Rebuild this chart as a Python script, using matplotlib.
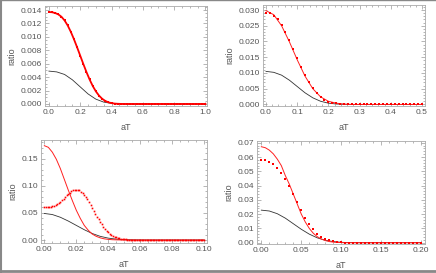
"""Four panels of ratio against aT"""
import matplotlib
matplotlib.use("Agg")
import matplotlib.pyplot as plt
from matplotlib.lines import Line2D
from matplotlib.ticker import MultipleLocator, FormatStrFormatter
import numpy as np

# panel 1 (aT from 0 to 1)
x1_red = np.arange(51) * 0.02
red1 = [0.01370, 0.01367, 0.01355, 0.01335, 0.01300, 0.01245, 0.01170, 0.01075,
        0.00965, 0.00845, 0.00720, 0.00595, 0.00475, 0.00365, 0.00268, 0.00188,
        0.00125, 0.00078, 0.00046, 0.00025, 0.00013, 0.00006, 0.00003, 0.00001] + [0.0] * 27
x1_black = np.arange(21) * 0.05
black1 = [0.0049, 0.00478, 0.00440, 0.00360, 0.00255, 0.00150, 0.00072, 0.00028,
          0.00009, 0.00002] + [0.0] * 11

# panel 2 (aT from 0 to 0.5)
x2_line = np.arange(21) * 0.025
red2_line = [0.0298, 0.0285, 0.0250, 0.0199, 0.0142, 0.0090, 0.0050, 0.0024,
             0.0010, 0.0004, 0.0001] + [0.0] * 10
black2 = [0.0105, 0.0102, 0.0093, 0.0077, 0.0057, 0.0037, 0.0021, 0.0010,
          0.0004, 0.00013, 0.00004] + [0.0] * 10
x2_dots = np.arange(41) * 0.0125
red2_dots = [0.0290, 0.0289, 0.0282, 0.0270, 0.0253, 0.0231, 0.0205, 0.0177,
             0.0148, 0.0120, 0.0094, 0.0071, 0.0052, 0.0036, 0.0024, 0.0015,
             0.0009, 0.0005, 0.0003, 0.0001] + [0.0] * 21

# panel 3 (aT from 0 to 0.1)
x3_line = np.arange(41) * 0.0025
red3_line = [0.174, 0.171, 0.162, 0.149, 0.132, 0.112, 0.092, 0.073, 0.055,
             0.040, 0.027, 0.018, 0.011, 0.0068, 0.004, 0.0022, 0.0012, 0.0006,
             0.0003, 0.00015, 0.0001] + [0.0] * 20
x3_black = np.arange(21) * 0.005
black3 = [0.049, 0.047, 0.042, 0.035, 0.027, 0.019, 0.012, 0.0068, 0.0035,
          0.0016, 0.0007, 0.0003, 0.0001] + [0.0] * 8
x3_dots = np.arange(101) * 0.001
red3_dots = [0.0605, 0.0605, 0.0607, 0.0610, 0.0615, 0.0622, 0.0630, 0.0643,
             0.0660, 0.0681, 0.0705, 0.0733, 0.0762, 0.0792, 0.0822, 0.0850,
             0.0875, 0.0897, 0.0915, 0.0926, 0.0930, 0.0926, 0.0915, 0.0895,
             0.0868, 0.0833, 0.0793, 0.0748, 0.0700, 0.0648, 0.0595, 0.0540,
             0.0485, 0.0432, 0.0380, 0.0332, 0.0287, 0.0246, 0.0208, 0.0175,
             0.0145, 0.0120, 0.0098, 0.0080, 0.0064, 0.0051, 0.0040, 0.0032,
             0.0025, 0.0019, 0.0015, 0.0012, 0.0009, 0.0007, 0.0005, 0.0004,
             0.0003, 0.0002, 0.0002, 0.0001, 0.0001] + [0.0] * 40

# panel 4 (aT from 0 to 0.2)
x4_line = np.arange(41) * 0.005
red4_line = [0.0672, 0.0665, 0.0648, 0.0622, 0.0585, 0.0540, 0.0470, 0.0410,
             0.0340, 0.0270, 0.0200, 0.0145, 0.0100, 0.0066, 0.0042, 0.0026,
             0.0015, 0.0008, 0.0004, 0.0002, 0.0001] + [0.0] * 20
red4_dots = [0.0578, 0.0576, 0.0566, 0.0552, 0.0520, 0.0490, 0.0448, 0.0396,
             0.0340, 0.0287, 0.0228, 0.0175, 0.0128, 0.0093, 0.0063, 0.0042,
             0.0028, 0.0016, 0.0012, 0.0006, 0.0003, 0.0001] + [0.0] * 19
x4_black = np.arange(21) * 0.01
black4 = [0.0228, 0.0222, 0.0203, 0.0172, 0.0133, 0.0094, 0.0060, 0.0034,
          0.0017, 0.0008, 0.0003, 0.0001] + [0.0] * 9

plt.rcParams["font.family"] = ["Liberation Sans", "DejaVu Sans"]

fig = plt.figure(figsize=(4.36, 2.73), dpi=100)
W, H = 436, 273


def make_axes(l, r, t, b):
    return fig.add_axes([l / W, 1 - b / H, (r - l) / W, (b - t) / H])


def style(ax, xlim, ylim, xmaj, xmin, ymaj, ymin, xfmt, yfmt):
    ax.set_xlim(*xlim)
    ax.set_ylim(*ylim)
    ax.xaxis.set_major_locator(MultipleLocator(xmaj))
    ax.xaxis.set_minor_locator(MultipleLocator(xmin))
    ax.yaxis.set_major_locator(MultipleLocator(ymaj))
    ax.yaxis.set_minor_locator(MultipleLocator(ymin))
    ax.xaxis.set_major_formatter(FormatStrFormatter(xfmt))
    ax.yaxis.set_major_formatter(FormatStrFormatter(yfmt))
    ax.tick_params(which="both", direction="in", top=True, right=True,
                   color="#999999", labelcolor="#555555", labelsize=6, width=0.5)
    ax.tick_params(which="major", length=3, pad=2)
    ax.tick_params(which="minor", length=1.5)
    for s in ax.spines.values():
        s.set_color("#aaaaaa")
        s.set_linewidth(0.6)
    ax.set_xlabel("aT", color="#555555", fontsize=6.5, labelpad=5)
    ax.set_ylabel("ratio", color="#555555", fontsize=6.5, labelpad=3)


red = "#ff2020"
dot = dict(ls="none", marker="s", ms=1.5, color="#ff0000", mew=0)

ax1 = make_axes(45, 207, 6, 106)
ax1.plot(x1_black, black1, color="#333333", lw=0.6)
ax1.plot(x1_red, red1, color="#ff0000", lw=1.3)
ax1.plot(x1_red, red1, **dot)
style(ax1, (-0.025, 1.01), (-0.0003, 0.0146), 0.2, 0.05, 0.002, 0.0005, "%.1f", "%.3f")

ax2 = make_axes(263, 425, 5, 106)
ax2.plot(x2_line, black2, color="#333333", lw=0.6)
ax2.plot(x2_line, red2_line, color=red, lw=0.7)
ax2.plot(x2_dots, red2_dots, **dot)
style(ax2, (-0.0096, 0.5096), (-0.0005, 0.0316), 0.1, 0.02, 0.005, 0.001, "%.1f", "%.3f")

ax3 = make_axes(41, 207, 140, 243)
ax3.plot(x3_black, black3, color="#333333", lw=0.6)
ax3.plot(x3_line, red3_line, color=red, lw=0.7)
ax3.plot(x3_dots, red3_dots, ls="none", marker="s", ms=1.2, color="#ff0000", mew=0)
style(ax3, (-0.0021, 0.1019), (-0.0055, 0.1845), 0.02, 0.005, 0.05, 0.01, "%.2f", "%.2f")

ax4 = make_axes(257, 425, 141, 244)
ax4.plot(x4_black, black4, color="#333333", lw=0.6)
ax4.plot(x4_line, red4_line, color=red, lw=0.7)
ax4.plot(x4_line, red4_dots, ls="none", marker="s", ms=1.7, color="#ff0000", mew=0)
style(ax4, (-0.0054, 0.2047), (-0.0009, 0.0712), 0.05, 0.01, 0.01, 0.002, "%.2f", "%.2f")

# grey frame around the picture
fig.add_artist(Line2D([0, 1], [0.999, 0.999], color="#888888", lw=1.0))
fig.add_artist(Line2D([0.002, 0.002], [0, 1], color="#888888", lw=1.5))
fig.add_artist(Line2D([0, 1], [0.006, 0.006], color="#888888", lw=2.0))

fig.savefig("out.png", dpi=100)
